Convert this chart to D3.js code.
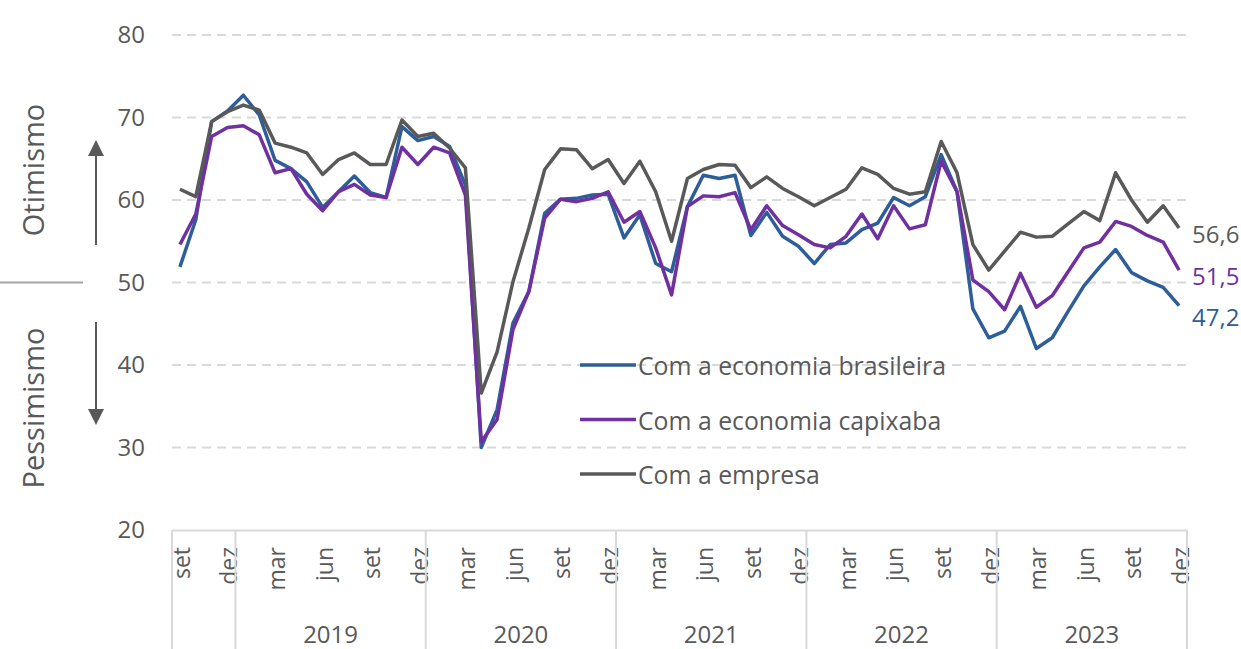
<!DOCTYPE html>
<html>
<head>
<meta charset="utf-8">
<script src="https://cdn.jsdelivr.net/npm/d3@7"></script>
<style>
  body { margin: 0; background: #fff; }
  svg { display: block; font-family: 'Open Sans', sans-serif; }
</style>
</head>
<body>
<div id="chart"></div>
<script>
// monthly index, set/2018 .. dez/2023
const monthNames = ['jan', 'fev', 'mar', 'abr', 'mai', 'jun', 'jul', 'ago', 'set', 'out', 'nov', 'dez'];
const shownMonths = ['mar', 'jun', 'set', 'dez'];
const yearLabels = ['2019', '2020', '2021', '2022', '2023'];
const yTicks = [20, 30, 40, 50, 60, 70, 80];

const brasileira = [51.9, 57.6, 69.5, 70.8, 72.7, 70.3, 64.8, 63.8, 62.2, 59.1, 61.0, 62.9, 60.9, 60.3, 68.9, 67.2,
    67.7, 66.5, 61.8, 30.0, 34.6, 45.1, 48.9, 58.4, 60.1, 60.2, 60.6, 60.7,
    55.4, 58.2, 52.3, 51.3, 59.2, 63.0, 62.6, 63.0, 55.7, 58.5, 55.6, 54.4,
    52.3, 54.6, 54.8, 56.4, 57.2, 60.3, 59.3, 60.4, 65.5, 61.0, 46.8, 43.3,
    44.1, 47.1, 42.0, 43.3, 46.5, 49.6, 51.9, 54.0, 51.2, 50.2, 49.4, 47.2];
const capixaba = [54.6, 58.3, 67.7, 68.8, 69.0, 67.9, 63.3, 63.8, 60.7, 58.7, 61.0, 61.9, 60.6, 60.3, 66.4, 64.3,
    66.4, 65.7, 60.6, 30.7, 33.4, 44.3, 48.9, 57.8, 60.1, 59.8, 60.2, 61.0,
    57.3, 58.6, 54.2, 48.5, 59.2, 60.5, 60.4, 60.9, 56.4, 59.3, 56.9, 55.8,
    54.6, 54.2, 55.6, 58.3, 55.3, 59.3, 56.5, 57.0, 64.7, 61.0, 50.3, 48.9,
    46.7, 51.1, 47.0, 48.4, 51.3, 54.2, 54.9, 57.4, 56.8, 55.7, 54.9, 51.5];
const empresa = [61.3, 60.4, 69.5, 70.7, 71.5, 70.9, 66.9, 66.4, 65.7, 63.1, 64.9, 65.7, 64.3, 64.3, 69.7, 67.7,
    68.1, 66.3, 63.9, 36.6, 41.6, 50.1, 56.6, 63.7, 66.2, 66.1, 63.8, 64.9,
    62.0, 64.7, 61.0, 55.0, 62.6, 63.7, 64.3, 64.2, 61.5, 62.8, 61.4, 60.4,
    59.3, 60.3, 61.3, 63.9, 63.1, 61.4, 60.7, 61.0, 67.1, 63.3, 54.6, 51.5,
    53.8, 56.1, 55.5, 55.6, 57.1, 58.6, 57.5, 63.3, 60.0, 57.3, 59.3, 56.6];

(function (window) {

    const COLORS = {
        brasileira: '#2E5E99',
        capixaba: '#7030A0',
        empresa: '#595959',
        text: '#595959',
        grid: '#d9d9d9',
        axis: '#d9d9d9'
    };

    const width = 1241;
    const height = 649;

    // categories: year + month for every point
    const categories = brasileira.map((d, i) => {
        const m = (8 + i) % 12;
        const y = 2018 + Math.floor((8 + i) / 12);
        return { i: i, month: monthNames[m], year: String(y) };
    });

    const series = [
        { key: 'brasileira', label: 'Com a economia brasileira', values: brasileira, color: COLORS.brasileira, labelY: 316 },
        { key: 'capixaba', label: 'Com a economia capixaba', values: capixaba, color: COLORS.capixaba, labelY: 275 },
        { key: 'empresa', label: 'Com a empresa', values: empresa, color: COLORS.empresa, labelY: 233 }
    ];

    const svg = d3.select('#chart').append('svg')
        .attr('width', width)
        .attr('height', height);

    const x = d3.scaleBand()
        .domain(categories.map(d => d.i))
        .range([172, 1187])
        .padding(0);

    const y = d3.scaleLinear()
        .domain([20, 80])
        .range([530, 35]);

    const cx = i => x(i) + x.bandwidth() / 2;

    // dashed grid
    svg.append('g')
        .selectAll('line')
        .data(yTicks.filter(t => t > 20))
        .enter()
        .append('line')
        .attr('x1', 172)
        .attr('x2', 1187)
        .attr('y1', d => y(d))
        .attr('y2', d => y(d))
        .attr('stroke', COLORS.grid)
        .attr('stroke-width', 2)
        .attr('stroke-dasharray', '9,6');

    // y axis labels
    const yAxis = svg.append('g')
        .attr('transform', 'translate(172,0)')
        .call(d3.axisLeft(y).tickValues(yTicks).tickSize(0).tickPadding(27));
    yAxis.select('.domain').remove();
    yAxis.selectAll('text')
        .attr('fill', COLORS.text)
        .style('font-size', '24px')
        .style('font-family', "'Open Sans', sans-serif");

    // x axis with month labels
    const xAxis = svg.append('g')
        .attr('transform', `translate(0,${y(20)})`)
        .call(d3.axisBottom(x)
            .tickValues(categories.filter(d => shownMonths.includes(d.month)).map(d => d.i))
            .tickFormat(i => categories[i].month)
            .tickSize(0)
            .tickSizeOuter(0));
    xAxis.select('.domain')
        .attr('stroke', COLORS.axis)
        .attr('stroke-width', 2);
    xAxis.selectAll('text')
        .attr('transform', 'rotate(-90)')
        .attr('x', -17)
        .attr('y', 0)
        .attr('dy', '0.43em')
        .attr('text-anchor', 'end')
        .attr('fill', COLORS.text)
        .style('font-size', '23px')
        .style('font-family', "'Open Sans', sans-serif");

    // year group separators
    const boundaries = [x(0)];
    yearLabels.forEach(yr => {
        const idx = categories.filter(d => d.year === yr).map(d => d.i);
        boundaries.push(x(idx[0]));
    });
    boundaries.push(x(categories.length - 1) + x.bandwidth());

    svg.append('g')
        .selectAll('line')
        .data(boundaries)
        .enter()
        .append('line')
        .attr('x1', d => d)
        .attr('x2', d => d)
        .attr('y1', y(20))
        .attr('y2', height)
        .attr('stroke', COLORS.axis)
        .attr('stroke-width', 2);

    svg.append('g')
        .selectAll('text')
        .data(yearLabels)
        .enter()
        .append('text')
        .attr('x', yr => {
            const idx = categories.filter(d => d.year === yr).map(d => d.i);
            return (x(idx[0]) + x(idx[idx.length - 1]) + x.bandwidth()) / 2;
        })
        .attr('y', 633)
        .attr('text-anchor', 'middle')
        .attr('dominant-baseline', 'central')
        .attr('fill', COLORS.text)
        .style('font-size', '24px')
        .text(d => d);

    // lines
    const line = d3.line()
        .x((d, i) => cx(i))
        .y(d => y(d));

    svg.append('g')
        .selectAll('path')
        .data(series)
        .enter()
        .append('path')
        .attr('d', d => line(d.values))
        .attr('fill', 'none')
        .attr('stroke', d => d.color)
        .attr('stroke-width', 3.5)
        .attr('stroke-linejoin', 'round');

    // end labels
    const fmt = v => v.toFixed(1).replace('.', ',');
    svg.append('g')
        .selectAll('text')
        .data(series)
        .enter()
        .append('text')
        .attr('x', 1192)
        .attr('y', d => d.labelY)
        .attr('dominant-baseline', 'central')
        .attr('fill', d => d.color)
        .style('font-size', '24px')
        .text(d => fmt(d.values[d.values.length - 1]));

    // legend
    const legend = svg.append('g')
        .selectAll('g')
        .data(series)
        .enter()
        .append('g')
        .attr('transform', (d, i) => `translate(580,${365 + i * 54.5})`);

    legend.append('line')
        .attr('x1', 0)
        .attr('x2', 56)
        .attr('stroke', d => d.color)
        .attr('stroke-width', 3.5);

    legend.append('text')
        .attr('x', 58)
        .attr('dominant-baseline', 'central')
        .attr('fill', COLORS.text)
        .style('font-size', '24.8px')
        .text(d => d.label);

    // otimismo / pessimismo side notes
    const side = svg.append('g');

    side.append('line')
        .attr('x1', 0)
        .attr('x2', 83)
        .attr('y1', y(50))
        .attr('y2', y(50))
        .attr('stroke', '#a6a6a6')
        .attr('stroke-width', 2);

    side.append('text')
        .attr('transform', 'translate(32,170) rotate(-90)')
        .attr('text-anchor', 'middle')
        .attr('dominant-baseline', 'central')
        .attr('fill', COLORS.text)
        .style('font-size', '29px')
        .text('Otimismo');

    side.append('text')
        .attr('transform', 'translate(32,408) rotate(-90)')
        .attr('text-anchor', 'middle')
        .attr('dominant-baseline', 'central')
        .attr('fill', COLORS.text)
        .style('font-size', '29px')
        .text('Pessimismo');

    const arrowColor = '#595959';
    side.append('line')
        .attr('x1', 96).attr('x2', 96)
        .attr('y1', 245).attr('y2', 152)
        .attr('stroke', arrowColor).attr('stroke-width', 2);
    side.append('path')
        .attr('d', 'M96,140 L104,156 L88,156 Z')
        .attr('fill', arrowColor);

    side.append('line')
        .attr('x1', 96).attr('x2', 96)
        .attr('y1', 322).attr('y2', 413)
        .attr('stroke', arrowColor).attr('stroke-width', 2);
    side.append('path')
        .attr('d', 'M96,425 L104,409 L88,409 Z')
        .attr('fill', arrowColor);

})(window);
</script>
</body>
</html>
